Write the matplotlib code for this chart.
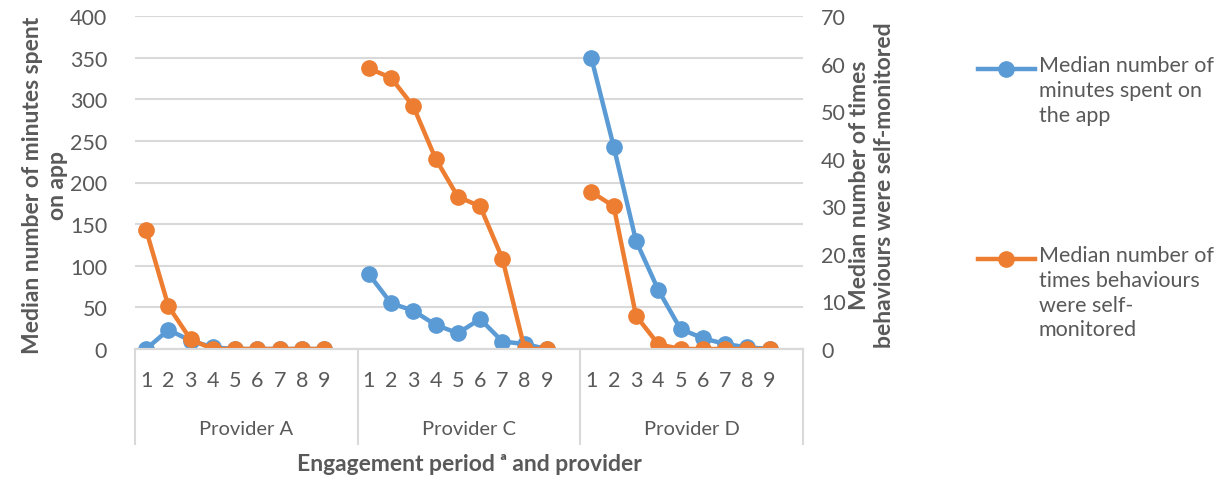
import numpy as np
import matplotlib.pyplot as plt
from matplotlib.lines import Line2D

plt.rcParams['font.family'] = ['Lato', 'DejaVu Sans']

providers = ["Provider A", "Provider C", "Provider D"]
periods = [1, 2, 3, 4, 5, 6, 7, 8, 9]

# median minutes spent on the app, per provider and engagement period
minutes = {
    "Provider A": [0, 23, 10, 2, 0, 0, 0, 0, 0],
    "Provider C": [90, 55, 46, 29, 19, 36, 9, 6, 0],
    "Provider D": [349, 243, 130, 71, 24, 13, 6, 2, 0],
}
# median number of self-monitored behaviours
self_monitored = {
    "Provider A": [25, 9, 2, 0, 0, 0, 0, 0, 0],
    "Provider C": [59, 57, 51, 40, 32, 30, 19, 0, 0],
    "Provider D": [33, 30, 7, 1, 0, 0, 0, 0, 0],
}

BLUE = "#5B9BD5"
ORANGE = "#ED7D31"
GREY = "#595959"
GRID = "#D9D9D9"

slot = len(periods) + 1  # one empty category after each provider

fig = plt.figure(figsize=(12.29, 4.81), dpi=100)
ax = fig.add_axes([135 / 1229, 1 - 350 / 481, 668 / 1229, 333 / 481])
ax2 = ax.twinx()

line_kw = dict(lw=3.2, marker="o", ms=11, solid_capstyle="round")
for g, name in enumerate(providers):
    x = [g * slot + i for i in range(len(periods))]
    ax.plot(x, minutes[name], color=BLUE, **line_kw)
    ax2.plot(x, self_monitored[name], color=ORANGE, **line_kw)

ax.set_xlim(-0.5, len(providers) * slot - 0.5)
ax.set_ylim(0, 400)
ax.set_yticks(range(0, 401, 50))
ax2.set_ylim(0, 70)
ax2.set_yticks(range(0, 71, 10))

ax.yaxis.grid(True, color=GRID, lw=1.5)
ax.set_axisbelow(True)
for a in (ax, ax2):
    for s in ("top", "left", "right"):
        a.spines[s].set_visible(False)
    a.spines["bottom"].set_color(GRID)
    a.spines["bottom"].set_linewidth(1.5)
    a.tick_params(axis="y", length=0, labelsize=15.5, labelcolor=GREY)
ax.tick_params(axis="y", pad=20)
ax2.tick_params(axis="y", pad=13)

xt = [g * slot + i for g in range(len(providers)) for i in range(len(periods))]
ax.set_xticks(xt)
ax.set_xticklabels([str(p) for p in periods] * len(providers))
ax.tick_params(axis="x", length=0, labelsize=15.5, labelcolor=GREY, pad=15)

# group separators and provider names under the category labels
trans = ax.get_xaxis_transform()
for g in range(len(providers) + 1):
    ax.plot([g * slot - 0.5] * 2, [0, -0.285], transform=trans, color=GRID,
            lw=1.5, clip_on=False)
for g, name in enumerate(providers):
    ax.text(g * slot + (slot - 1) / 2, -0.24, name, transform=trans,
            ha="center", va="center", fontsize=14.5, color=GREY)

ax.text(0.5, -0.345, "Engagement period ᵃ and provider", transform=ax.transAxes,
        ha="center", va="center", fontsize=16.5, fontweight="bold", color=GREY)

fig.text(45 / 1229, 0.615, "Median number of minutes spent\non app", rotation=90,
         ha="center", va="center", fontsize=16.5, fontweight="bold", color=GREY,
         linespacing=1.25)
fig.text(872 / 1229, 0.615, "Median number of times\nbehaviours were self-monitored",
         rotation=90, ha="center", va="center", fontsize=16.5, fontweight="bold",
         color=GREY, linespacing=1.25)

# legend drawn by hand so the marker sits on the first text line
legend = [
    (BLUE, 70, "Median number of\nminutes spent on\nthe app"),
    (ORANGE, 260, "Median number of\ntimes behaviours\nwere self-\nmonitored"),
]
for color, ypix, label in legend:
    yf = 1 - ypix / 481
    fig.add_artist(Line2D([978 / 1229, 1035 / 1229], [yf, yf], color=color, lw=3.2))
    fig.add_artist(Line2D([1006 / 1229], [yf], color=color, marker="o", ms=11))
    fig.text(1039 / 1229, yf + 14 / 481, label, ha="left", va="top", fontsize=15.5,
             color=GREY, linespacing=1.3)

fig.savefig("out.png", dpi=100)
